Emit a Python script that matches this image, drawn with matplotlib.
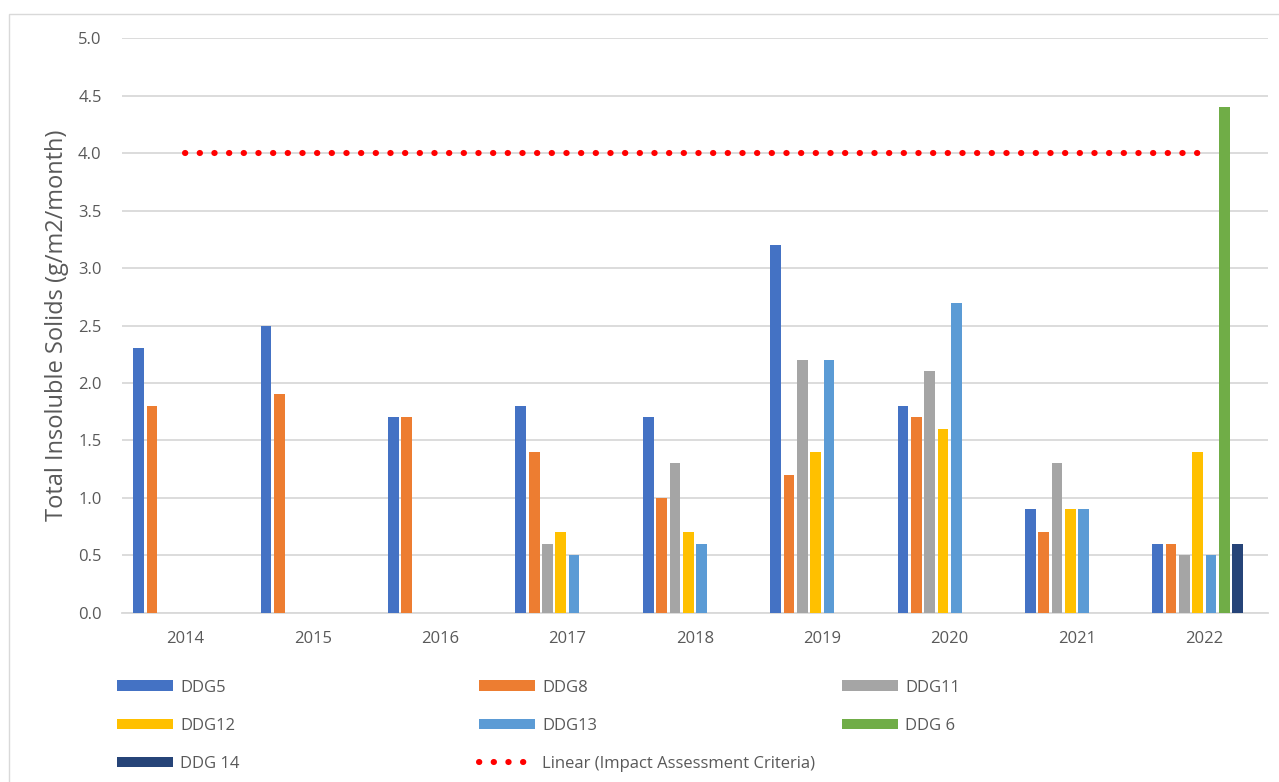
import numpy as np
import matplotlib
matplotlib.use("Agg")
import matplotlib.pyplot as plt
from matplotlib.lines import Line2D
from matplotlib.patches import Patch, Rectangle

years = ["2014", "2015", "2016", "2017", "2018", "2019", "2020", "2021", "2022"]
nan = np.nan
ddg5 = [2.3, 2.5, 1.7, 1.8, 1.7, 3.2, 1.8, 0.9, 0.6]
ddg8 = [1.8, 1.9, 1.7, 1.4, 1.0, 1.2, 1.7, 0.7, 0.6]
ddg11 = [nan, nan, nan, 0.6, 1.3, 2.2, 2.1, 1.3, 0.5]
ddg12 = [nan, nan, nan, 0.7, 0.7, 1.4, 1.6, 0.9, 1.4]
ddg13 = [nan, nan, nan, 0.5, 0.6, 2.2, 2.7, 0.9, 0.5]
ddg6 = [nan, nan, nan, nan, nan, nan, nan, nan, 4.4]
ddg14 = [nan, nan, nan, nan, nan, nan, nan, nan, 0.6]
criteria = [4.0, 4.0, 4.0, 4.0, 4.0, 4.0, 4.0, 4.0, 4.0]

series_names = ["DDG5", "DDG8", "DDG11", "DDG12", "DDG13", "DDG 6", "DDG 14"]
series_vals = [ddg5, ddg8, ddg11, ddg12, ddg13, ddg6, ddg14]
colors = ["#4472C4", "#ED7D31", "#A5A5A5", "#FFC000", "#5B9BD5", "#70AD47", "#264478"]

plt.rcParams['font.family'] = ['Open Sans', 'DejaVu Sans']
txt = "#595959"
grid = "#D9D9D9"

W, H = 1279, 782
fig = plt.figure(figsize=(W / 100, H / 100), dpi=100)
ax = fig.add_axes([121.7 / W, 1 - 612.7 / H, (1268 - 121.7) / W, (612.7 - 38.3) / H])

x = np.arange(len(years))
slot = 13.33 / 127.4
bw = 10.7 / 127.4
nslots = 8
for i, (name, vals, c) in enumerate(zip(series_names, series_vals, colors)):
    v = np.array(vals, dtype=float)
    m = ~np.isnan(v)
    ax.bar(x[m] + (i - (nslots - 1) / 2) * slot, v[m], width=bw, color=c, zorder=3)

ax.plot(x, criteria, color="#FF0000", lw=4.4, linestyle=(0, (0.05, 2.35)),
        dash_capstyle='round', zorder=4)

ax.set_xlim(-0.5, len(years) - 0.5)
ax.set_ylim(0, 5)
ax.set_yticks(np.arange(0, 5.01, 0.5))
ax.set_yticklabels([f"{t:.1f}" for t in np.arange(0, 5.01, 0.5)])
ax.set_xticks(x)
ax.set_xticklabels(years)
ax.yaxis.grid(True, color=grid, lw=1.3, zorder=0)
ax.set_axisbelow(True)
for s in ["top", "right", "left"]:
    ax.spines[s].set_visible(False)
ax.spines["bottom"].set_color(grid)
ax.spines["bottom"].set_linewidth(1.3)
ax.tick_params(axis='both', length=0, labelsize=12, colors=txt)
ax.tick_params(axis='x', pad=13.5)
ax.tick_params(axis='y', pad=14.4)
ax.set_ylabel("Total Insoluble Solids (g/m2/month)", fontsize=17, color=txt)
ax.yaxis.set_label_coords(57 / W, 0.5 * (1 - 612.7 / H + 1 - 38.3 / H), transform=fig.transFigure)
ax.yaxis.label.set_verticalalignment('center')

handles = [Patch(facecolor=c, edgecolor='none') for c in colors]
crit_h = Line2D([], [], color="#FF0000", lw=4.4, linestyle=(0, (0.05, 2.35)), dash_capstyle='round')

cols = [
    ([handles[0], handles[3], handles[6]], ["DDG5", "DDG12", "DDG 14"], 117),
    ([handles[1], handles[4], crit_h], ["DDG8", "DDG13", "Linear (Impact Assessment Criteria)"], 479),
    ([handles[2], handles[5]], ["DDG11", "DDG 6"], 842),
]
for hs, ls, px in cols:
    fig.legend(hs, ls, loc='upper left', bbox_to_anchor=(px / W, 1 - 679.5 / H),
               frameon=False, fontsize=12, labelcolor=txt, borderpad=0, borderaxespad=0,
               handlelength=3.36, handleheight=0.6, handletextpad=0.42, labelspacing=1.33)

fig.patches.append(Rectangle((9 / W, -0.01), 1.2, 1 - 14 / H + 0.01, transform=fig.transFigure,
                             fill=False, edgecolor=grid, lw=1.0))

fig.savefig("out.png", dpi=100)
